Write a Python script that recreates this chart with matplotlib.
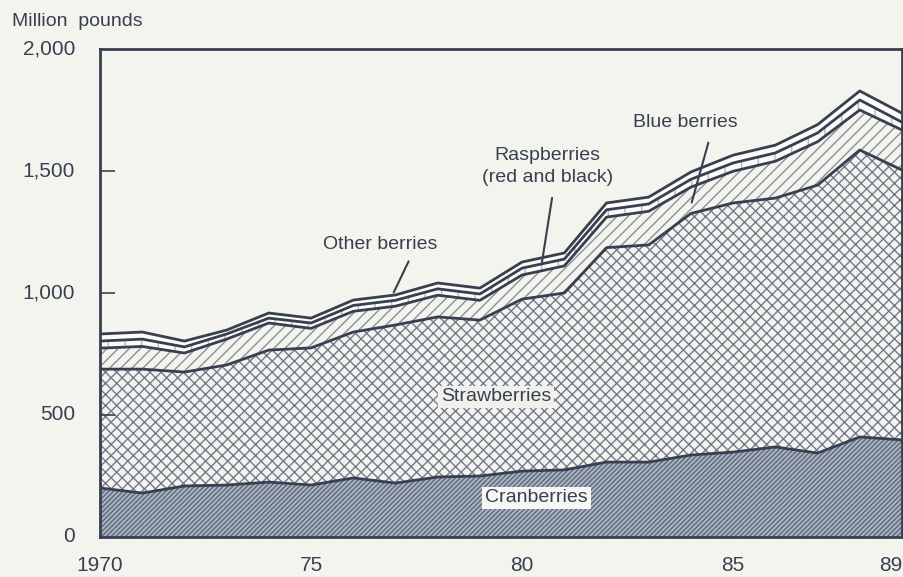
import matplotlib
matplotlib.use("Agg")
import matplotlib.pyplot as plt
import numpy as np

# Berry production, million pounds
years = list(range(1970, 1990))
cranberries = [201, 180, 209, 213, 225, 213, 242, 221, 246, 250,
               270, 275, 307, 307, 336, 348, 369, 344, 410, 398]
strawberries = [487, 508, 467, 492, 541, 562, 598, 648, 656, 639,
                705, 725, 879, 890, 990, 1021, 1020, 1098, 1176, 1106]
blueberries = [86, 93, 78, 106, 111, 80, 85, 77, 89, 81,
               99, 111, 125, 138, 108, 130, 151, 178, 164, 164]
raspberries = [29, 30, 25, 21, 20, 22, 24, 24, 26, 26,
               28, 28, 30, 30, 32, 34, 34, 36, 41, 32]
other_berries = [29, 29, 24, 16, 21, 20, 22, 22, 24, 24,
                 25, 25, 28, 28, 30, 32, 32, 34, 37, 37]

y_ticks = [0, 500, 1000, 1500, 2000]
y_tick_labels = ["0", "500", "1,000", "1,500", "2,000"]
x_ticks = [1970, 1975, 1980, 1985, 1989]
x_tick_labels = ["1970", "75", "80", "85", "89"]

plt.rcParams["font.family"] = ["Liberation Sans", "DejaVu Sans"]
plt.rcParams["hatch.linewidth"] = 1.0

bg = "#f4f4ef"
ink = "#38404f"

fig = plt.figure(figsize=(9.04, 5.77), dpi=100, facecolor=bg)
ax = fig.add_axes([100 / 904, 40 / 577, 802 / 904, 488 / 577])
ax.set_facecolor(bg)

layers = np.array([cranberries, strawberries, blueberries, raspberries, other_berries])
tops = np.cumsum(layers, axis=0)
bottoms = np.vstack([np.zeros(len(years)), tops[:-1]])

# face colour, hatch, hatch colour per layer (bottom to top)
styles = [
    ("#aab4c3", "///////", "#5d687b"),
    (bg, "xxx", "#737a8c"),
    (bg, "///", "#8a8f98"),
    ("#fbfbf8", "|", "#b5b8bf"),
    ("#fbfbf8", None, bg),
]
for (lo, hi), (fc, hatch, hc) in zip(zip(bottoms, tops), styles):
    ax.fill_between(years, lo, hi, facecolor=fc, hatch=hatch,
                    edgecolor=hc, linewidth=0, zorder=1)
for hi in tops:
    ax.plot(years, hi, color=ink, lw=2, zorder=3)

ax.set_xlim(1970, 1989)
ax.set_ylim(0, 2000)
ax.set_yticks(y_ticks[1:-1])
ax.set_yticklabels([])
for v, lab in zip(y_ticks, y_tick_labels):
    ax.text(-0.031, v, lab, transform=ax.get_yaxis_transform(),
            ha="right", va="center", fontsize=15, color=ink)
ax.tick_params(axis="y", direction="in", length=11, width=1.2, color=ink, zorder=4)
ax.set_xticks(x_ticks)
ax.set_xticklabels(x_tick_labels, fontsize=15, color=ink)
ax.tick_params(axis="x", length=0, pad=14)
ax.get_xticklabels()[-1].set_ha("right")
for s in ax.spines.values():
    s.set_color(ink)
    s.set_linewidth(2)
    s.set_zorder(5)

fig.text(12 / 904, 1 - 22 / 577, "Million  pounds", fontsize=14,
         color=ink, ha="left", va="center")

# series labels and leaders
ax.text(1976.63, 1197, "Other berries", fontsize=14, color=ink,
        ha="center", va="center")
ax.annotate("", xy=(1976.93, 992), xytext=(1977.34, 1140),
            arrowprops=dict(arrowstyle="-", color=ink, lw=1.5))
ax.text(1980.6, 1520, "Raspberries\n(red and black)", fontsize=14,
        color=ink, ha="center", va="center", linespacing=1.4)
ax.annotate("", xy=(1980.46, 1115), xytext=(1980.72, 1401),
            arrowprops=dict(arrowstyle="-", color=ink, lw=1.5))
ax.text(1983.87, 1697, "Blue berries", fontsize=14, color=ink,
        ha="center", va="center")
ax.annotate("", xy=(1984.0, 1360), xytext=(1984.43, 1627),
            arrowprops=dict(arrowstyle="-", color=ink, lw=1.5))
ax.text(1979.39, 574, "Strawberries", fontsize=14, color=ink, ha="center",
        va="center", zorder=6,
        bbox=dict(boxstyle="square,pad=0.15", fc="#f0f0ec", ec="none"))
ax.text(1980.34, 160, "Cranberries", fontsize=14, color=ink, ha="center",
        va="center", zorder=6,
        bbox=dict(boxstyle="square,pad=0.15", fc="#f6f6f2", ec="none"))

fig.savefig("out.png", dpi=100, facecolor=bg)
